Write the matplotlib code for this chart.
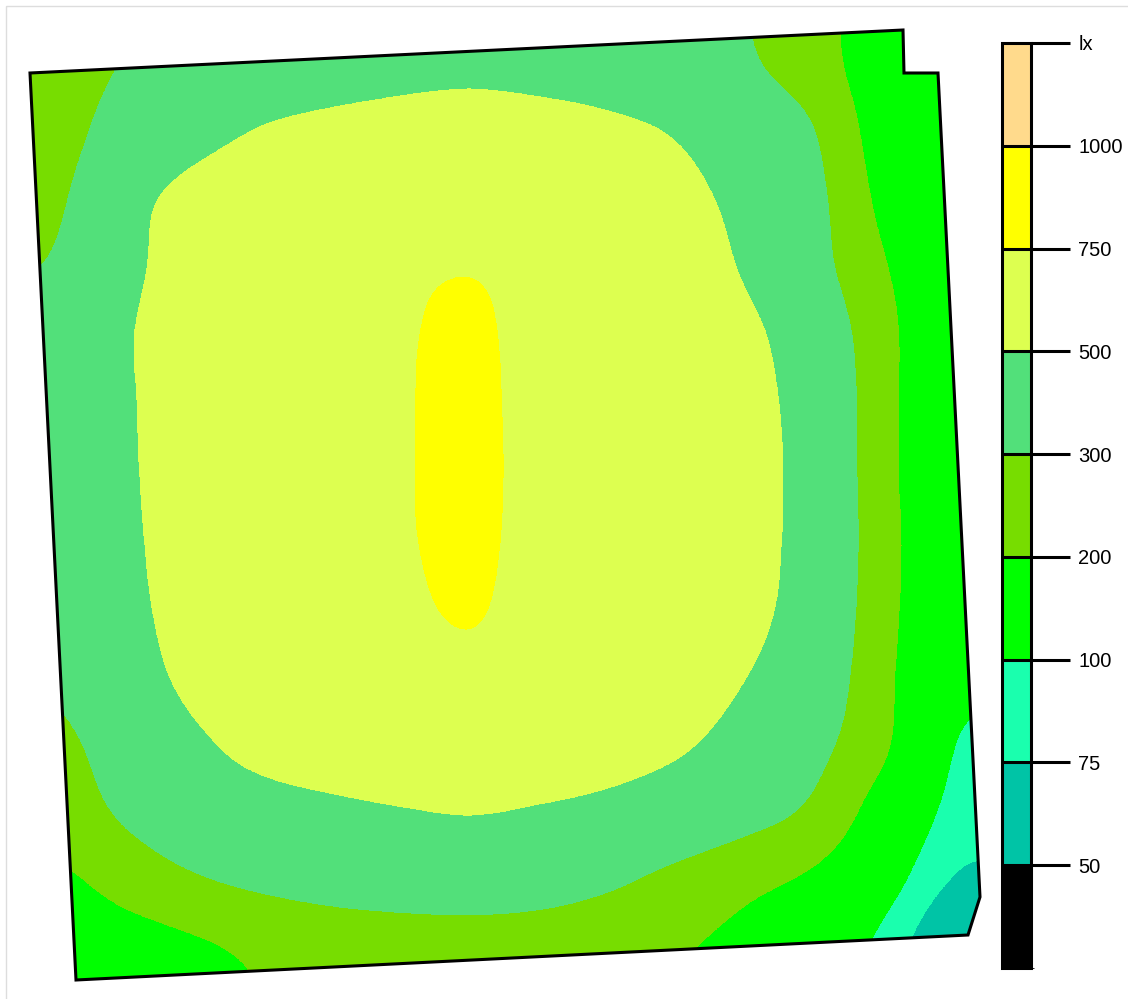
import numpy as np
import matplotlib
matplotlib.use("Agg")
import matplotlib.pyplot as plt
from matplotlib.colors import ListedColormap, BoundaryNorm
from matplotlib.patches import Polygon, Rectangle
from matplotlib.cm import ScalarMappable

# illuminance classes (lx) and their colours
levels = [0, 50, 75, 100, 200, 300, 500, 750, 1000, 1500]
level_labels = ["50", "75", "100", "200", "300", "500", "750", "1000", "lx"]
band_colors = ["#000000", "#00C4A6", "#1AFFAE", "#00FF00", "#77DD00",
               "#52E07A", "#DDFF50", "#FFFF00", "#FFDA8C"]

# room outline in plan units
room_x = [30, 903, 904, 938, 980, 968, 76]
room_y = [73, 30, 73, 73, 897, 935, 980]

# calculation grid covering the plan (plan units), values in lx
grid_x0, grid_x1 = 30, 980
grid_y0, grid_y1 = 30, 980
lux = np.array([
    [260, 310, 345, 380, 420, 455, 470, 455, 430, 390, 320, 250, 155, 130],
    [270, 370, 450, 515, 550, 565, 570, 560, 535, 490, 400, 310, 170, 140],
    [295, 455, 555, 600, 630, 650, 655, 640, 610, 560, 455, 340, 190, 140],
    [318, 470, 590, 660, 695, 720, 740, 690, 670, 610, 490, 355, 215, 150],
    [350, 495, 610, 680, 712, 735, 790, 675, 680, 640, 545, 410, 240, 140],
    [360, 490, 620, 690, 718, 738, 805, 675, 690, 655, 565, 435, 245, 130],
    [360, 485, 620, 690, 720, 738, 810, 678, 695, 660, 575, 440, 245, 130],
    [350, 475, 610, 680, 712, 735, 800, 675, 690, 655, 570, 440, 250, 135],
    [330, 460, 590, 660, 690, 715, 770, 665, 670, 635, 555, 430, 245, 135],
    [320, 430, 555, 625, 655, 675, 700, 665, 645, 605, 510, 400, 235, 125],
    [285, 370, 480, 560, 600, 620, 625, 610, 580, 530, 440, 345, 225, 108],
    [255, 325, 400, 440, 470, 495, 510, 490, 460, 410, 350, 285, 170, 95],
    [190, 245, 295, 330, 355, 370, 375, 360, 325, 275, 230, 190, 125, 77],
    [140, 165, 192, 220, 240, 250, 255, 250, 235, 210, 180, 140, 95, 58],
])

plt.rcParams["font.family"] = ["Liberation Sans", "DejaVu Sans"]

W, H = 1128, 999
fig = plt.figure(figsize=(W / 100, H / 100), dpi=100)
ax = fig.add_axes([0, 0, 1, 1])

cmap = ListedColormap(band_colors)
norm = BoundaryNorm(levels, cmap.N)

im = ax.imshow(lux, cmap=cmap, norm=norm, interpolation="catrom",
               interpolation_stage="data", origin="upper",
               extent=(grid_x0, grid_x1, grid_y1, grid_y0))
room = Polygon(np.column_stack([room_x, room_y]), closed=True,
               fill=False, edgecolor="black", linewidth=2.2, zorder=3)
ax.add_patch(room)
im.set_clip_path(room)

# faint page frame
ax.add_patch(Rectangle((6, 6), 1300, 1100, fill=False, edgecolor="#dddddd",
                       linewidth=1, clip_on=False))

ax.set_xlim(0, W)
ax.set_ylim(H, 0)
ax.set_aspect("auto")
ax.axis("off")

# legend bar
cax = fig.add_axes([1002 / W, 31 / H, 29 / W, 925 / H])
sm = ScalarMappable(norm=norm, cmap=cmap)
cbar = fig.colorbar(sm, cax=cax, spacing="uniform", drawedges=True)
cbar.set_ticks(levels[1:], labels=level_labels)
cbar.ax.tick_params(axis="y", length=28, width=2.2, pad=6, labelsize=14.5,
                    colors="black")
cbar.outline.set_linewidth(2.2)
cbar.dividers.set_linewidth(2.2)
cbar.dividers.set_color("black")

fig.savefig("out.png", dpi=100)
